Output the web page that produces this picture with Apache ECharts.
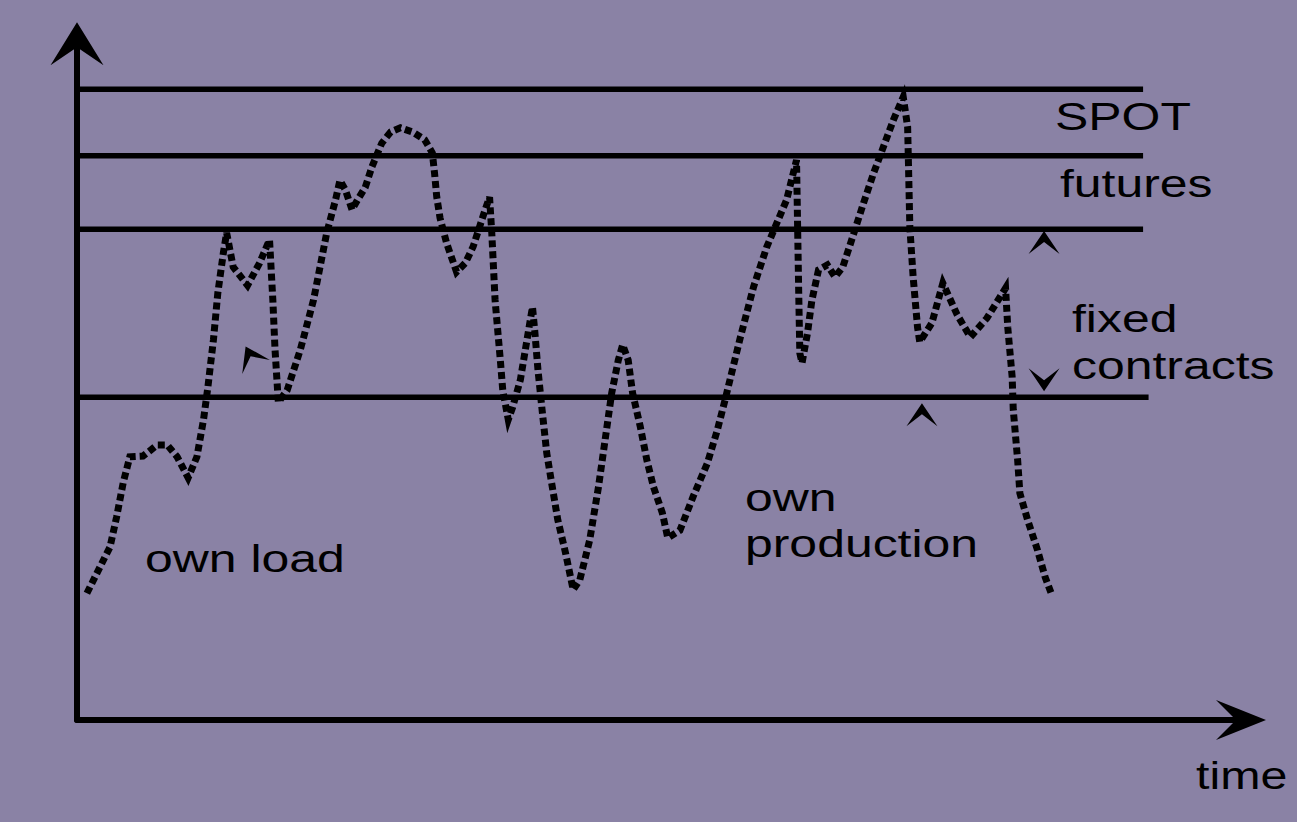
<!DOCTYPE html>
<html>
<head>
<meta charset="utf-8">
<script src="https://cdn.jsdelivr.net/npm/echarts@6/dist/echarts.min.js"></script>
<style>
html,body{margin:0;padding:0;background:#8a82a5;}
#chart{width:1297px;height:822px;}
</style>
</head>
<body>
<div id="chart"></div>
<script>
// time (x) vs. level (y), arbitrary units
var loadCurve = [
  [0.9,18.1],[2.1,21.9],[3.0,24.7],[3.6,29.0],[4.2,33.9],[4.8,37.6],[6.0,37.7],[7.3,39.3],
  [8.2,39.3],[9.1,37.6],[10.1,34.6],[10.9,37.6],[11.5,42.9],[11.9,47.6],[12.4,54.3],[12.8,61.0],
  [13.3,66.7],[13.6,69.6],[14.2,64.7],[15.5,62.1],[16.6,65.3],[17.5,68.6],[17.8,60.0],[18.0,52.9],
  [18.3,45.4],[19.1,47.1],[20.3,52.9],[21.5,60.0],[22.7,69.6],[23.5,74.3],[23.9,77.1],[24.4,75.7],
  [25.0,72.9],[25.5,74.3],[26.2,76.1],[26.8,79.0],[27.7,82.4],[28.5,84.0],[29.4,84.6],[30.5,84.0],
  [31.6,82.9],[32.3,81.0],[32.5,78.1],[32.7,74.7],[33.0,71.7],[33.6,68.1],[34.5,64.0],[35.3,65.3],
  [36.0,67.6],[37.1,72.9],[37.5,74.7],[37.7,69.6],[38.0,60.0],[38.5,51.0],[38.7,47.1],[39.2,42.9],
  [39.6,44.7],[40.3,48.6],[40.9,54.3],[41.4,59.0],[41.6,55.7],[41.9,50.0],[42.3,43.9],[42.7,38.1],
  [43.2,33.3],[43.7,28.6],[44.4,23.9],[45.1,18.6],[45.7,20.0],[46.6,25.7],[47.4,33.3],[48.0,40.0],
  [48.6,46.7],[49.2,51.4],[49.6,53.6],[50.1,51.4],[50.5,46.7],[51.2,41.9],[51.8,37.1],[52.4,33.3],
  [53.2,29.6],[53.7,26.0],[54.8,27.1],[56.0,31.9],[57.3,36.7],[58.2,41.4],[58.9,45.7],[60.3,54.7],
  [61.5,61.9],[62.7,67.6],[64.5,74.3],[65.4,80.0],[65.5,70.4],[65.6,61.0],[65.7,52.4],[65.9,51.0],
  [66.4,55.3],[66.8,60.0],[67.4,64.3],[68.2,65.0],[68.9,63.3],[69.6,64.7],[70.5,69.0],[71.5,73.9],
  [72.4,78.1],[73.3,81.9],[74.2,85.7],[75.1,89.0],[75.5,84.7],[75.6,77.6],[75.7,70.4],[76.0,63.3],
  [76.4,56.1],[76.6,54.0],[77.7,56.7],[78.7,62.4],[80.0,57.9],[81.2,54.7],[82.7,57.4],[84.4,61.7],
  [84.6,56.1],[85.0,49.0],[85.1,44.3],[85.5,37.1],[85.7,32.4],[86.4,28.6],[87.3,24.3],[88.0,20.4],
  [88.6,17.9]
];
var levelNames = ['SPOT', 'futures', 'fixed upper', 'fixed lower'];
var levelValues = [90.1, 80.6, 70.1, 46.1];
var levelEnds = [96.9, 96.9, 96.9, 97.4];
// small arrowheads: [x, y, rotation in degrees]
var markerArrows = [[87.9, 68.2, 0], [87.9, 48.6, 180], [76.8, 43.6, 0], [15.8, 51.9, 27]];

var yArrow = 'path://M0,0L26.5,43L0,25L-26.5,43Z';
var xArrow = 'path://M0,0L20,50L0,30L-20,50Z';
var smallArrow = 'path://M0,0L15.5,23L0,11L-15.5,23Z';

var series = [];
levelValues.forEach(function (v, i) {
  series.push({
    name: levelNames[i], type: 'line', symbol: 'none', silent: true,
    data: [[0, v], [levelEnds[i], v]],
    lineStyle: { color: '#000', width: 5.5, type: 'solid' }
  });
});
series.push({
  name: 'own load', type: 'line', symbol: 'none', smooth: false,
  data: loadCurve,
  lineStyle: { color: '#000', width: 7, type: [7, 4], cap: 'butt', join: 'miter' }
});
series.push({
  name: 'arrows', type: 'scatter', silent: true,
  symbol: smallArrow, symbolSize: [31, 23],
  itemStyle: { color: '#000', opacity: 1 },
  data: markerArrows.map(function (m) { return { value: [m[0], m[1]], symbolRotate: m[2] }; })
});

// baseline positions from the reference; text box top = baseline - 34
function txt(t, x, baseline, sx) {
  return {
    type: 'text', x: x, y: baseline - 34, scaleX: sx || 1.28, scaleY: 1,
    style: { text: t, fill: '#000', font: '39px "Liberation Sans", Arial, sans-serif', verticalAlign: 'top', align: 'left' }
  };
}

var chart = echarts.init(document.getElementById('chart'), null, { renderer: 'svg' });
chart.setOption({
  backgroundColor: '#8a82a5',
  animation: false,
  grid: { left: 77, right: 56, top: 43.8, bottom: 102 },
  xAxis: {
    type: 'value', min: 0, max: 105.8,
    axisLine: { show: true, onZero: false, symbol: ['none', xArrow], symbolSize: [40, 50], lineStyle: { color: '#000', width: 6 } },
    axisTick: { show: false }, axisLabel: { show: false }, splitLine: { show: false }
  },
  yAxis: {
    type: 'value', min: 0, max: 96.6,
    axisLine: { show: true, onZero: false, symbol: ['none', yArrow], symbolSize: [53, 43], lineStyle: { color: '#000', width: 6 } },
    axisTick: { show: false }, axisLabel: { show: false }, splitLine: { show: false }
  },
  series: series,
  graphic: [
    txt('SPOT', 1055, 131),
    txt('futures', 1060, 198),
    txt('fixed', 1072, 333),
    txt('contracts', 1072, 380),
    txt('own load', 145, 573),
    txt('own', 745, 512),
    txt('production', 745, 558),
    txt('time', 1196, 790, 1.24)
  ]
});
</script>
</body>
</html>
